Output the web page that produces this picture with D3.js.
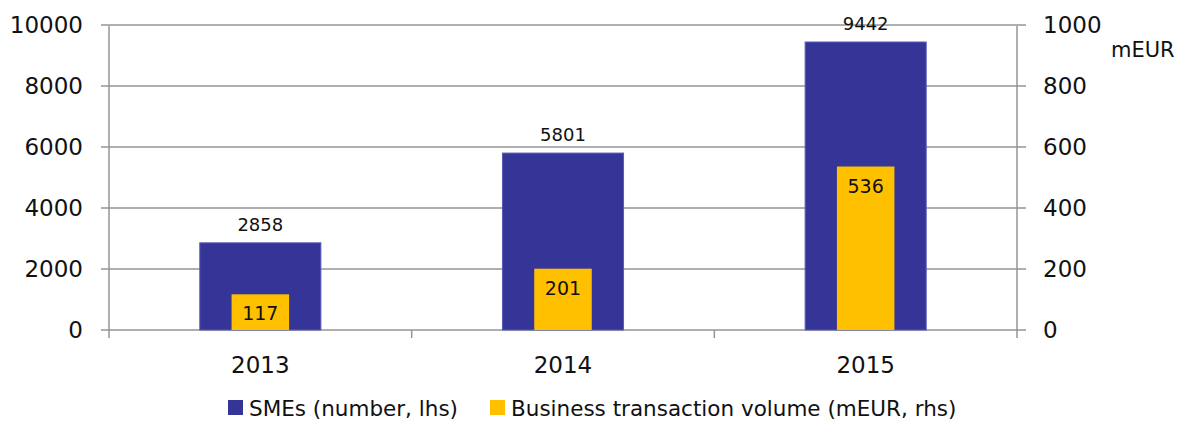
<!DOCTYPE html>
<html>
<head>
<meta charset="utf-8">
<script src="https://cdn.jsdelivr.net/npm/d3@7"></script>
<style>
  body { margin: 0; background: #fff; }
  text { font-family: "DejaVu Sans", sans-serif; fill: #111; }
</style>
</head>
<body>
<div id="chart"></div>
<script>
const years = ['2013', '2014', '2015']
const smes = [2858, 5801, 9442]
const volume = [117, 201, 536]
const leftTicks = [0, 2000, 4000, 6000, 8000, 10000]
const rightTicks = [0, 200, 400, 600, 800, 1000]
const legendLabels = ['SMEs (number, lhs)', 'Business transaction volume (mEUR, rhs)']

const width = 1187
const height = 421
const plotLeft = 109, plotRight = 1017, plotTop = 25, plotBottom = 330
const blue = '#353597', gold = '#ffc000', grid = '#959595'

let svg = d3.select('#chart').append('svg')
  .attr('width', width)
  .attr('height', height)

const x = d3.scaleBand().domain(years).range([plotLeft, plotRight])
const yL = d3.scaleLinear().domain([0, 10000]).range([plotBottom, plotTop])
const yR = d3.scaleLinear().domain([0, 1000]).range([plotBottom, plotTop])

// gridlines with outside ticks on both sides
svg.append('g').selectAll('line')
  .data(leftTicks)
  .enter()
  .append('line')
  .attr('x1', plotLeft - 8)
  .attr('x2', plotRight + 9)
  .attr('y1', d => yL(d))
  .attr('y2', d => yL(d))
  .attr('stroke', grid)
  .attr('stroke-width', 1.5)

// vertical axis lines
svg.append('g').selectAll('line')
  .data([plotLeft, plotRight])
  .enter()
  .append('line')
  .attr('x1', d => d).attr('x2', d => d)
  .attr('y1', plotTop + 1).attr('y2', plotBottom + 8)
  .attr('stroke', grid)
  .attr('stroke-width', 1.5)

// category ticks
svg.append('g').selectAll('line')
  .data(years.slice(1))
  .enter()
  .append('line')
  .attr('x1', d => x(d)).attr('x2', d => x(d))
  .attr('y1', plotBottom).attr('y2', plotBottom + 8)
  .attr('stroke', grid)
  .attr('stroke-width', 1.5)

// tick labels
svg.append('g').selectAll('text')
  .data(leftTicks)
  .enter()
  .append('text')
  .attr('x', 83)
  .attr('y', d => yL(d))
  .attr('dy', '0.36em')
  .attr('text-anchor', 'end')
  .style('font-size', '23px')
  .text(d => d)

svg.append('g').selectAll('text')
  .data(rightTicks)
  .enter()
  .append('text')
  .attr('x', 1043)
  .attr('y', d => yR(d))
  .attr('dy', '0.36em')
  .style('font-size', '23px')
  .text(d => d)

svg.append('text')
  .attr('x', 1111).attr('y', 57)
  .style('font-size', '21px')
  .text('mEUR')

svg.append('g').selectAll('text')
  .data(years)
  .enter()
  .append('text')
  .attr('x', d => x(d) + x.bandwidth() / 2)
  .attr('y', 373)
  .attr('text-anchor', 'middle')
  .style('font-size', '23px')
  .text(d => d)

// bars
const bw = x.bandwidth() * 0.4
const gw = x.bandwidth() * 0.19

svg.append('g').selectAll('rect')
  .data(smes)
  .enter()
  .append('rect')
  .attr('x', (d, i) => x(years[i]) + (x.bandwidth() - bw) / 2)
  .attr('y', d => yL(d))
  .attr('width', bw)
  .attr('height', d => plotBottom - yL(d))
  .attr('fill', blue)
  .attr('stroke', '#5a5ab8')
  .attr('stroke-width', 1)

svg.append('g').selectAll('rect')
  .data(volume)
  .enter()
  .append('rect')
  .attr('x', (d, i) => x(years[i]) + (x.bandwidth() - gw) / 2)
  .attr('y', d => yR(d))
  .attr('width', gw)
  .attr('height', d => plotBottom - yR(d))
  .attr('fill', gold)

// data labels
svg.append('g').selectAll('text')
  .data(smes)
  .enter()
  .append('text')
  .attr('x', (d, i) => x(years[i]) + x.bandwidth() / 2)
  .attr('y', d => yL(d) - 12)
  .attr('text-anchor', 'middle')
  .style('font-size', '18px')
  .text(d => d)

svg.append('g').selectAll('text')
  .data(volume)
  .enter()
  .append('text')
  .attr('x', (d, i) => x(years[i]) + x.bandwidth() / 2)
  .attr('y', d => yR(d) + 26)
  .attr('text-anchor', 'middle')
  .style('font-size', '19px')
  .text(d => d)

// legend
const legendX = [228, 490]
const legend = svg.append('g').selectAll('g')
  .data(legendLabels)
  .enter()
  .append('g')
  .attr('transform', (d, i) => `translate(${legendX[i]},400)`)

legend.append('rect')
  .attr('width', 15).attr('height', 15)
  .attr('fill', (d, i) => i === 0 ? blue : gold)

legend.append('text')
  .attr('x', 21).attr('y', 16)
  .style('font-size', '21.5px')
  .text(d => d)
</script>
</body>
</html>
